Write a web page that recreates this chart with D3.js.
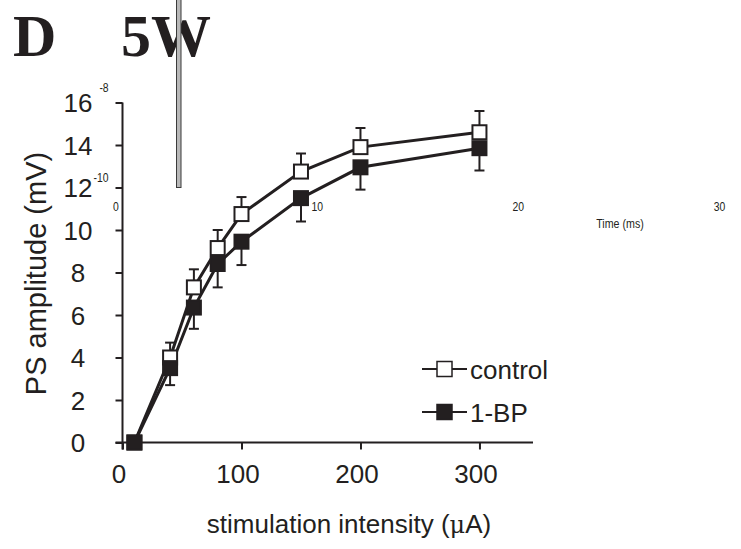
<!DOCTYPE html>
<html><head><meta charset="utf-8">
<script src="https://cdn.jsdelivr.net/npm/d3@7"></script>
<style>
html,body{margin:0;padding:0;background:#fff;}
svg{display:block;}
text{font-family:"Liberation Sans",Arial,sans-serif;fill:#231f20;}
</style></head>
<body>
<svg id="chart" width="741" height="549"></svg>
<script>
// ---- data ----
const intensities = [10, 40, 60, 80, 100, 150, 200, 300];
const controlMean = [0, 4.0, 7.3, 9.15, 10.75, 12.75, 13.9, 14.6];
const controlErr  = [0, 0.7, 0.85, 0.85, 0.8, 0.85, 0.9, 1.0];
const bpMean      = [0, 3.5, 6.35, 8.4, 9.45, 11.5, 12.95, 13.85];
const bpErr       = [0, 0.8, 1.0, 1.1, 1.1, 1.1, 1.05, 1.05];
const xTicks = [0, 100, 200, 300];
const yTicks = [0, 2, 4, 6, 8, 10, 12, 14, 16];
const seriesNames = ["control", "1-BP"];
// stray overlay labels from a second panel in the source figure
const timeTicks = [0, 10, 20, 30];
const expLabels = ["-8", "-10"];

const ink = "#231f20";
const svg = d3.select("#chart");

const x = d3.scaleLinear().domain([0, 345]).range([122.5, 533]);
const y = d3.scaleLinear().domain([0, 16]).range([442.5, 102.5]);

// ---- panel title ----
svg.append("text").attr("x", 13).attr("y", 56)
  .style("font-family", "'Liberation Serif','Times New Roman',serif")
  .style("font-weight", "bold").style("font-size", "60px").text("D");
svg.append("text").attr("x", 121).attr("y", 56)
  .style("font-family", "'Liberation Serif','Times New Roman',serif")
  .style("font-weight", "bold").style("font-size", "60px").text("5W");

// ---- overlay artifacts from other panel ----
svg.append("rect").attr("x", 176.5).attr("y", -2).attr("width", 4.5).attr("height", 189.5)
  .attr("fill", "#b8b8b8").attr("stroke", "#3a3a3a").attr("stroke-width", 1);

const tScale = d3.scaleLinear().domain([0, 30]).range([116, 719.5]);
svg.append("g").selectAll("text").data(timeTicks).join("text")
  .attr("transform", d => `translate(${tScale(d)},210.5) scale(0.8,1)`)
  .attr("text-anchor", "middle").style("font-size", "13px").text(d => d);
svg.append("text").attr("transform", "translate(620,227.5) scale(0.82,1)")
  .attr("text-anchor", "middle").style("font-size", "13px").text("Time (ms)");
svg.append("text").attr("transform", "translate(104,92) scale(0.8,1)")
  .attr("text-anchor", "middle").style("font-size", "13px").text(expLabels[0]);
svg.append("text").attr("transform", "translate(101,182) scale(0.8,1)")
  .attr("text-anchor", "middle").style("font-size", "13px").text(expLabels[1]);

// ---- axes ----
const yAxis = d3.axisLeft(y).tickValues(yTicks).tickSize(7).tickPadding(0).tickSizeOuter(0);
const gy = svg.append("g").attr("transform", `translate(${x(0)},0)`).call(yAxis);
gy.select(".domain").remove();
gy.selectAll(".tick line").attr("stroke", ink).attr("stroke-width", 2);
gy.selectAll(".tick text").attr("x", 78 - x(0)).attr("text-anchor", "middle")
  .attr("dy", "0.36em").style("font-size", "26px").style("fill", ink);

const xAxis = d3.axisBottom(x).tickValues(xTicks).tickSize(7).tickPadding(0).tickSizeOuter(0);
const gx = svg.append("g").attr("transform", `translate(0,${y(0)})`).call(xAxis);
gx.select(".domain").remove();
gx.selectAll(".tick line").attr("stroke", ink).attr("stroke-width", 2);
gx.selectAll(".tick text").attr("y", 40).attr("dy", 0).attr("dx", -4)
  .style("font-size", "26px").style("fill", ink);

// axis lines (crossing style)
svg.append("line").attr("x1", x(0)).attr("x2", x(0)).attr("y1", y(16)).attr("y2", y(0) + 7)
  .attr("stroke", ink).attr("stroke-width", 2);
svg.append("line").attr("x1", x(0) - 7).attr("x2", x(345)).attr("y1", y(0)).attr("y2", y(0))
  .attr("stroke", ink).attr("stroke-width", 2);

// axis titles
svg.append("text").attr("transform", `translate(46,${(y(0) + y(16)) / 2 + 1}) rotate(-90)`)
  .attr("text-anchor", "middle").style("font-size", "29px").text("PS amplitude (mV)");
const xt = svg.append("text").attr("x", 349).attr("y", 533).attr("text-anchor", "middle")
  .style("font-size", "26px");
xt.append("tspan").text("stimulation intensity (");
xt.append("tspan").style("font-family", "'DejaVu Serif','Liberation Serif',serif").style("font-size", "24px").text("μ");
xt.append("tspan").text("A)");

// ---- data series ----
const series = [
  { name: seriesNames[0], mean: controlMean, err: controlErr, fill: "#ffffff", dir: 1 },
  { name: seriesNames[1], mean: bpMean, err: bpErr, fill: ink, dir: -1 }
];
const line = d3.line().x(d => x(d[0])).y(d => y(d[1]));
const plot = svg.append("g");

series.forEach(s => {
  const pts = intensities.map((v, i) => [v, s.mean[i], s.err[i]]);
  plot.append("path").datum(pts).attr("d", line).attr("fill", "none")
    .attr("stroke", ink).attr("stroke-width", 3);
});
series.forEach(s => {
  const pts = intensities.map((v, i) => [v, s.mean[i], s.err[i]]).filter(p => p[2] > 0);
  const g = plot.append("g").attr("stroke", ink).attr("stroke-width", 2);
  g.selectAll("line.v").data(pts).join("line")
    .attr("x1", d => x(d[0])).attr("x2", d => x(d[0]))
    .attr("y1", d => y(d[1])).attr("y2", d => y(d[1] + s.dir * d[2]));
  g.selectAll("line.c").data(pts).join("line")
    .attr("x1", d => x(d[0]) - 5).attr("x2", d => x(d[0]) + 5)
    .attr("y1", d => y(d[1] + s.dir * d[2])).attr("y2", d => y(d[1] + s.dir * d[2]));
});
const ms = 14;
series.forEach(s => {
  const pts = intensities.map((v, i) => [v, s.mean[i]]);
  plot.append("g").selectAll("rect").data(pts).join("rect")
    .attr("x", d => x(d[0]) - ms / 2).attr("y", d => y(d[1]) - ms / 2)
    .attr("width", ms).attr("height", ms)
    .attr("fill", s.fill).attr("stroke", ink).attr("stroke-width", 2);
});

// ---- legend ----
const legendY = [369, 412];
series.forEach((s, i) => {
  const g = svg.append("g").attr("transform", `translate(0,${legendY[i]})`);
  g.append("line").attr("x1", 422).attr("x2", 467).attr("y1", 0).attr("y2", 0)
    .attr("stroke", ink).attr("stroke-width", 2);
  g.append("rect").attr("x", 437).attr("y", -7.5).attr("width", 15).attr("height", 15)
    .attr("fill", s.fill).attr("stroke", ink).attr("stroke-width", 1.5);
  g.append("text").attr("x", 470).attr("y", 9.5).style("font-size", "26px").text(s.name);
});
</script>
</body></html>
